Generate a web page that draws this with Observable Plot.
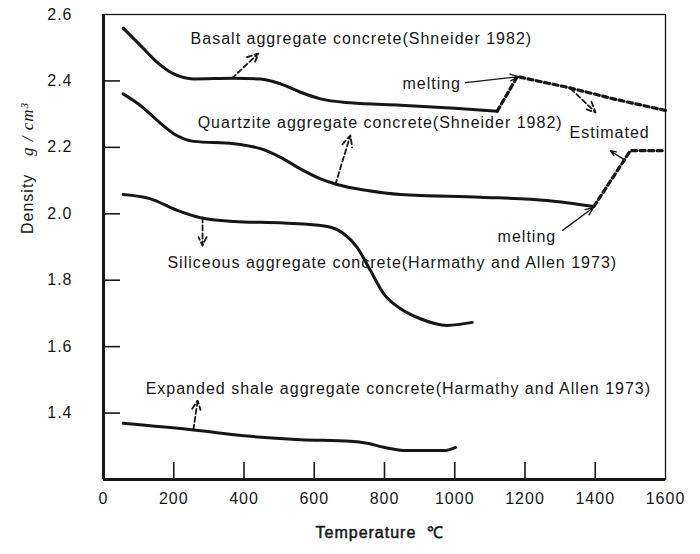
<!DOCTYPE html>
<html><head><meta charset="utf-8">
<script src="https://cdn.jsdelivr.net/npm/d3@7"></script>
<script src="https://cdn.jsdelivr.net/npm/@observablehq/plot@0.6"></script>
<style>
body{margin:0;background:#fff;}
</style>
</head><body><div id="chart"></div>
<script>
// ---- data ----
const xTickMarks = [200, 400, 600, 800, 1000, 1200, 1400];
const xTickLabels = [0, 200, 400, 600, 800, 1000, 1200, 1400, 1600];
const yTickMarks = [1.4, 1.6, 1.8, 2.0, 2.2, 2.4];
const yTickLabels = [1.4, 1.6, 1.8, 2.0, 2.2, 2.4, 2.6];

const basaltT = [56, 105, 153, 200, 257, 371, 447, 504, 561, 618, 703, 846, 1000, 1121];
const basaltD = [2.559, 2.507, 2.456, 2.421, 2.406, 2.408, 2.406, 2.391, 2.366, 2.346, 2.334, 2.327, 2.318, 2.309];
const basaltEstT = [1121, 1178, 1320, 1452, 1600];
const basaltEstD = [2.309, 2.413, 2.381, 2.346, 2.311];

const quartziteT = [56, 105, 153, 200, 257, 371, 447, 504, 561, 618, 665, 751, 846, 1073, 1263, 1396];
const quartziteD = [2.361, 2.326, 2.281, 2.241, 2.218, 2.211, 2.196, 2.170, 2.135, 2.105, 2.088, 2.070, 2.058, 2.050, 2.040, 2.022];
const quartziteEstT = [1396, 1500, 1600];
const quartziteEstD = [2.022, 2.190, 2.190];

const siliceousT = [56, 134, 210, 276, 371, 513, 637, 684, 722, 760, 798, 846, 902, 978, 1050];
const siliceousD = [2.058, 2.045, 2.010, 1.988, 1.977, 1.972, 1.962, 1.940, 1.899, 1.829, 1.759, 1.714, 1.684, 1.664, 1.673];

const shaleT = [56, 257, 418, 561, 703, 751, 798, 865, 969, 1002];
const shaleD = [1.369, 1.349, 1.330, 1.320, 1.315, 1.309, 1.297, 1.287, 1.287, 1.297];

const seriesLabels = [
  "Basalt aggregate concrete(Shneider 1982)",
  "Quartzite aggregate concrete(Shneider 1982)",
  "Siliceous aggregate concrete(Harmathy and Allen 1973)",
  "Expanded shale aggregate concrete(Harmathy and Allen 1973)"
];
const seriesLabelT = [248, 268, 182, 120];
const seriesLabelD = [2.528, 2.275, 1.853, 1.474];
const seriesArrowT1 = [366, 660, 282, 256];
const seriesArrowD1 = [2.408, 2.088, 1.989, 1.350];
const seriesArrowT2 = [441, 703, 282, 268];
const seriesArrowD2 = [2.483, 2.236, 1.904, 1.438];

const notes = ["melting", "Estimated", "melting"];
const noteT = [851, 1327, 1122];
const noteD = [2.392, 2.245, 1.929];
const noteArrowT1 = [1031, 1486, 1307];
const noteArrowD1 = [2.395, 2.160, 1.950];
const noteArrowT2 = [1181, 1443, 1395];
const noteArrowD2 = [2.413, 2.190, 2.019];
const estArrowT1 = [1330];
const estArrowD1 = [2.377];
const estArrowT2 = [1401];
const estArrowD2 = [2.305];

// ---- tables ----
const pts = (T, D) => T.map((t, i) => ({T: t, d: D[i]}));
const basalt = pts(basaltT, basaltD);
const basaltEst = pts(basaltEstT, basaltEstD);
const quartzite = pts(quartziteT, quartziteD);
const quartziteEst = pts(quartziteEstT, quartziteEstD);
const siliceous = pts(siliceousT, siliceousD);
const shale = pts(shaleT, shaleD);
const labelRows = seriesLabels.map((s, i) => ({text: s, T: seriesLabelT[i], d: seriesLabelD[i]}));
const seriesArrows = seriesArrowT1.map((t, i) => ({x1: t, y1: seriesArrowD1[i], x2: seriesArrowT2[i], y2: seriesArrowD2[i]}));
const noteRows = notes.map((s, i) => ({text: s, T: noteT[i], d: noteD[i]}));
const noteArrows = noteArrowT1.map((t, i) => ({x1: t, y1: noteArrowD1[i], x2: noteArrowT2[i], y2: noteArrowD2[i]}));
const estArrows = estArrowT1.map((t, i) => ({x1: t, y1: estArrowD1[i], x2: estArrowT2[i], y2: estArrowD2[i]}));

const ink = "#161616";
const solid = {x: "T", y: "d", stroke: ink, strokeWidth: 3, curve: "monotone-x"};
const dashed = {x: "T", y: "d", stroke: ink, strokeWidth: 3.2, strokeDasharray: "5,3.5", curve: "linear"};

const chart = Plot.plot({
  width: 700,
  height: 554,
  marginLeft: 103,
  marginRight: 35,
  marginTop: 14,
  marginBottom: 75,
  style: {fontFamily: "'Liberation Sans', Arial, sans-serif", fontSize: "16px", letterSpacing: "1px", background: "#fff", color: ink},
  x: {domain: [0, 1600]},
  y: {domain: [1.2, 2.6]},
  marks: [
    Plot.frame({stroke: ink, strokeWidth: 1.3}),
    Plot.ruleX([0], {stroke: ink, strokeWidth: 3}),
    Plot.ruleY([1.2], {stroke: ink, strokeWidth: 3}),
    Plot.tickX(xTickMarks, {x: d => d, insetTop: 448, stroke: ink, strokeWidth: 1.6}),
    Plot.tickY(yTickMarks, {y: d => d, insetRight: 545, stroke: ink, strokeWidth: 1.6}),
    Plot.axisX(xTickLabels, {tickSize: 0, tickPadding: 13, label: null, tickFormat: d3.format("d"), fontSize: 16, fill: ink}),
    Plot.axisY(yTickLabels, {tickSize: 0, tickPadding: 31, label: null, tickFormat: d3.format(".1f"), fontSize: 16, fill: ink}),
    Plot.line(basalt, solid),
    Plot.line(basaltEst, dashed),
    Plot.line(quartzite, solid),
    Plot.line(quartziteEst, dashed),
    Plot.line(siliceous, solid),
    Plot.line(shale, solid),
    Plot.arrow(seriesArrows, {x1: "x1", y1: "y1", x2: "x2", y2: "y2", stroke: ink, strokeWidth: 1.8, strokeDasharray: "5,3", headLength: 10, headAngle: 50}),
    Plot.arrow(noteArrows, {x1: "x1", y1: "y1", x2: "x2", y2: "y2", stroke: ink, strokeWidth: 1.3, headLength: 10, headAngle: 45}),
    Plot.arrow(estArrows, {x1: "x1", y1: "y1", x2: "x2", y2: "y2", stroke: ink, strokeWidth: 1.8, strokeDasharray: "5,3", headLength: 10, headAngle: 50}),
    Plot.text(labelRows, {x: "T", y: "d", text: "text", textAnchor: "start", fontSize: 16, fill: ink}),
    Plot.text(noteRows, {x: "T", y: "d", text: "text", textAnchor: "start", fontSize: 16, fill: ink}),
    Plot.text(["Density"], {frameAnchor: "left", rotate: -90, dx: -76, dy: -13, fontSize: 16, fill: ink}),
    Plot.text(["g / cm³"], {frameAnchor: "left", rotate: -90, dx: -76, dy: -91, fontSize: 17, fontStyle: "italic", fontFamily: "'Liberation Serif', serif", fill: ink}),
    Plot.text(["Temperature  ℃"], {frameAnchor: "bottom-left", dx: 212, dy: 58, textAnchor: "start", fontSize: 16, fill: ink, stroke: ink, strokeWidth: 0.5})
  ]
});
document.getElementById("chart").appendChild(chart);
</script>
</body></html>
